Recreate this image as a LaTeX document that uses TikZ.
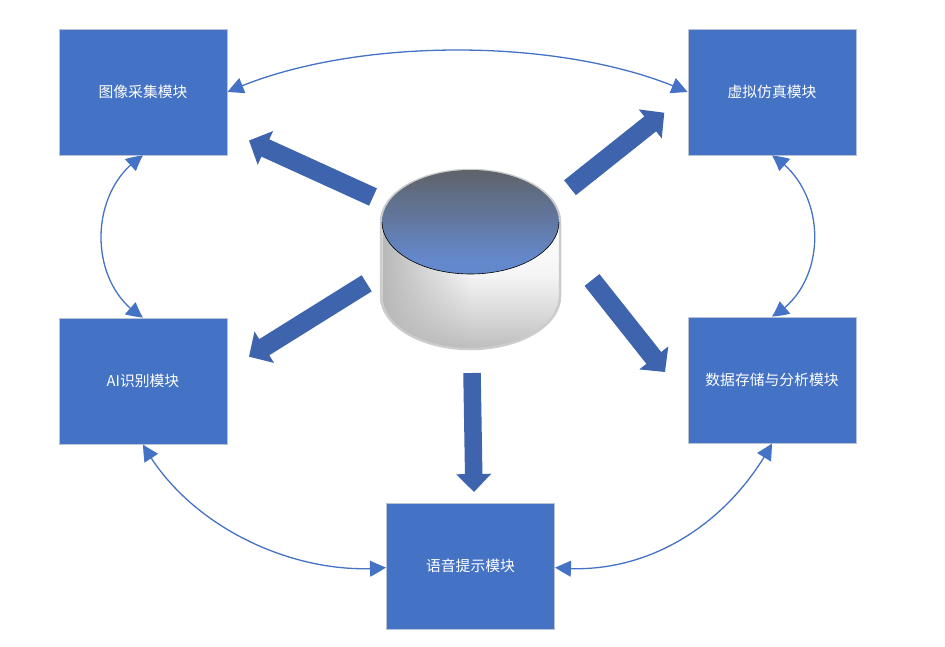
\documentclass[tikz,border=0pt]{standalone}
\usepackage{fontspec}
\setmainfont{Noto Sans CJK SC}
\usetikzlibrary{arrows.meta,bending,fadings}
\definecolor{boxblue}{HTML}{4472C4}
\definecolor{boxedge}{HTML}{B9C3D6}
\definecolor{bigblue}{HTML}{3D64AC}
\definecolor{lidtop}{HTML}{5F6369}
\definecolor{lidbot}{HTML}{6488CC}
\definecolor{bodyA}{HTML}{BDBDBD}
\definecolor{bodyB}{HTML}{DADADA}
\definecolor{bodyC}{HTML}{F5F5F5}
\pgfdeclareverticalshading{lidshade}{100bp}{color(0bp)=(lidbot); color(32bp)=(lidbot); color(75bp)=(lidtop); color(100bp)=(lidtop)}
\pgfdeclareverticalshading{bodyshade}{100bp}{color(0bp)=(bodyA); color(25bp)=(bodyA); color(35bp)=(bodyB); color(46bp)=(bodyC); color(60bp)=(white); color(100bp)=(white)}
\tikzset{
 module/.style={draw=boxedge,line width=1pt,fill=boxblue,text=white,minimum width=168pt,minimum height=126pt,inner sep=0pt,font=\fontsize{14.8pt}{16pt}\selectfont,anchor=center},
 link/.style={draw=boxblue,line width=1.3pt,{Triangle[length=16pt,width=16pt,bend]}-{Triangle[length=16pt,width=16pt,bend]}},
 bigarrow/.style={draw=bigblue,line width=19pt,-{Triangle[length=18pt,width=36pt]}},
 bigarrowv/.style={draw=bigblue,line width=17.5pt,-{Triangle[length=18pt,width=34pt]}},
}
\begin{document}
\begin{tikzpicture}[x=1pt,y=-1pt]
\useasboundingbox (0,0) rectangle (945,646);
% modules
\node[module] (img) at (143,92) {图像采集模块};
\node[module] (vr) at (772,92) {虚拟仿真模块};
\node[module] (ai) at (143,381) {AI识别模块};
\node[module] (data) at (772,380) {数据存储与分析模块};
\node[module] (voice) at (470.5,566) {语音提示模块};
% database
\path[draw=black!20,line width=2.5pt,shading=bodyshade]
  (381,222) -- (381,296) arc[x radius=89.5,y radius=53,start angle=180,end angle=0] -- (560,222)
  arc[x radius=89.5,y radius=52,start angle=0,end angle=-180] -- cycle;
\fill[black!28,path fading=east]
  (382.5,222) -- (382.5,296) arc[x radius=88,y radius=52,start angle=180,end angle=90] -- (470.5,222) -- cycle;
\path[shading=lidshade]
  (470.5,222) ellipse[x radius=88.5,y radius=52];
\draw[black,line width=0.6pt] (382,222) arc[x radius=88.5,y radius=52,start angle=180,end angle=0];
\coordinate (c1a) at (373,197); \coordinate (c1b) at (249,140.5);
\coordinate (c2a) at (570,187.7); \coordinate (c2b) at (664.3,112.7);
\coordinate (c3a) at (366.7,283.3); \coordinate (c3b) at (249,356.7);
\coordinate (c4a) at (592,280); \coordinate (c4b) at (665,372);
\coordinate (c5a) at (472,373); \coordinate (c5b) at (474,492);
\foreach \t in {1,...,4}{\draw[bigarrow] (c\t a) -- (c\t b);}
\draw[bigarrowv] (c5a) -- (c5b);
% links
\draw[link] (img.east) .. controls (350,36) and (565,36) .. (vr.west);
\draw[link] (img.south) .. controls (87,190) and (87,285) .. (ai.north);
\draw[link] (vr.south) .. controls (829,190) and (829,285) .. (data.north);
\draw[link] (ai.south) .. controls (190,530) and (300,577) .. ([yshift=-1.5pt]voice.west);
\draw[link] (data.south) .. controls (725,530) and (640,577) .. ([yshift=-1.5pt]voice.east);
\end{tikzpicture}
\end{document}
